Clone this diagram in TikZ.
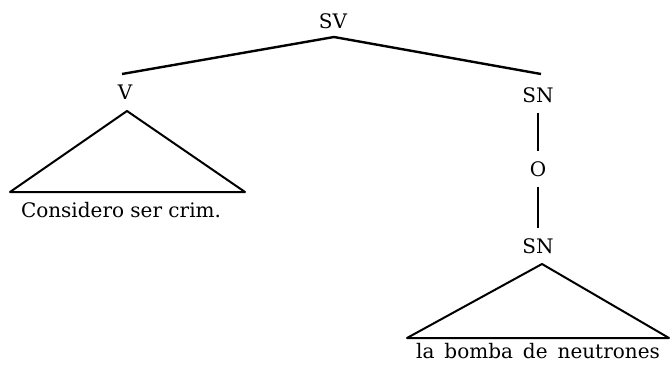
\documentclass[tikz,border=0pt]{standalone}
\usepackage{fontspec}
\setmainfont{DejaVu Serif}
\tikzset{
  cat/.style    = {inner sep=0pt, outer sep=10pt, font=\fontsize{20}{24}\selectfont},
  words/.style  = {inner sep=0pt, anchor=base, font=\fontsize{20}{24}\selectfont},
  branch/.style = {line width=2.4pt, line join=round},
  stem/.style   = {line width=1.6pt},
  roof/.style   = {line width=2pt, line join=round},
}
\begin{document}
\begin{tikzpicture}[x=1pt, y=-1pt]
  \useasboundingbox (0,0) rectangle (671,369);

  % category labels
  \node[cat] (sv)    at (333, 21.5) {SV};
  \node[cat] (v)     at (125, 92.5) {V};
  \node[cat] (sn)    at (538, 95)   {SN};
  \node[cat] (o)     at (538, 169)  {O};
  \node[cat] (snlow) at (538, 246)  {SN};

  % top branches
  \coordinate (svfoot) at (334, 37);
  \coordinate (vhead)  at (122, 74);
  \coordinate (snhead) at (541, 74);
  \draw[branch] (vhead) -- (svfoot) -- (snhead);

  % vertical stems
  \draw[stem] (sn) -- (o);
  \draw[stem] (o) -- (snlow);

  % triangles
  \coordinate (vapex)   at (127, 111);
  \coordinate (vleft)   at (10, 192);
  \coordinate (vright)  at (245, 192);
  \draw[roof] (vapex) -- (vright) -- (vleft) -- cycle;

  \coordinate (snapex)  at (542, 264);
  \coordinate (snleft)  at (407, 338);
  \coordinate (snright) at (669, 338);
  \draw[roof] (snapex) -- (snright) -- (snleft) -- cycle;

  % terminal strings
  \node[words] (vwords)  at (121, 217) {Considero ser crim.};
  \node[words] (snwords) at (538, 358) {\spaceskip=10pt plus 2pt la bomba de neutrones};
\end{tikzpicture}
\end{document}
